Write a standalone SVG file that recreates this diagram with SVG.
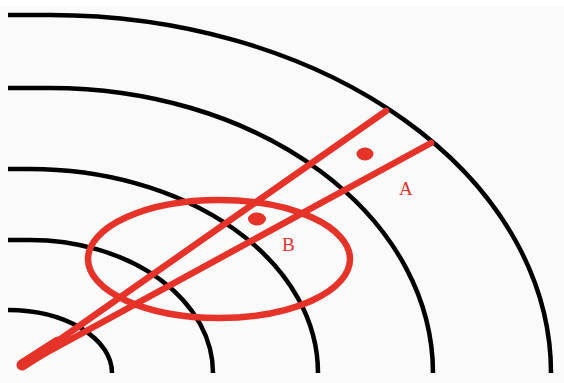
<svg xmlns="http://www.w3.org/2000/svg" width="564" height="383" viewBox="0 0 564 383">
<style>
.arc{fill:none;stroke:#000;stroke-width:4.5}
.red{fill:none;stroke:#e6332a;stroke-width:6.5;stroke-linecap:round}
.dot{fill:#e6332a}
.lbl{font-family:"Liberation Serif","Times New Roman",serif;font-size:19px;fill:#e6332a}
</style>
<rect x="0" y="0" width="564" height="383" fill="#ffffff"/>
<rect x="0" y="7" width="564" height="376" fill="#fafafa"/>
<g id="arcs">
<path id="arc1" class="arc" d="M8,310 A104,63 0 0 1 112,373"/>
<path id="arc2" class="arc" d="M8,240 H30 A183,133 0 0 1 213,373"/>
<path id="arc3" class="arc" d="M8,169 H30 A288,204 0 0 1 318,373"/>
<path id="arc4" class="arc" d="M8,88 H50 A383,285 0 0 1 433,373"/>
<path id="arc5" class="arc" d="M8,15 H50 A501,358 0 0 1 551,373"/>
</g>
<g id="connectors">
<line class="red" x1="22" y1="366" x2="386" y2="111"/>
<line class="red" x1="22" y1="366" x2="431" y2="143"/>
<line class="red" style="stroke-width:11" x1="22" y1="365" x2="58" y2="342"/>
</g>
<g id="ellipse">
<ellipse class="red" cx="219" cy="259" rx="131" ry="59"/>
</g>
<g id="pointA">
<ellipse class="dot" cx="365" cy="154" rx="8.5" ry="6.5"/>
<text class="lbl" x="399" y="195">A</text>
</g>
<g id="pointB">
<ellipse class="dot" cx="257" cy="219" rx="9" ry="6.5"/>
<text class="lbl" x="282" y="251">B</text>
</g>
</svg>
